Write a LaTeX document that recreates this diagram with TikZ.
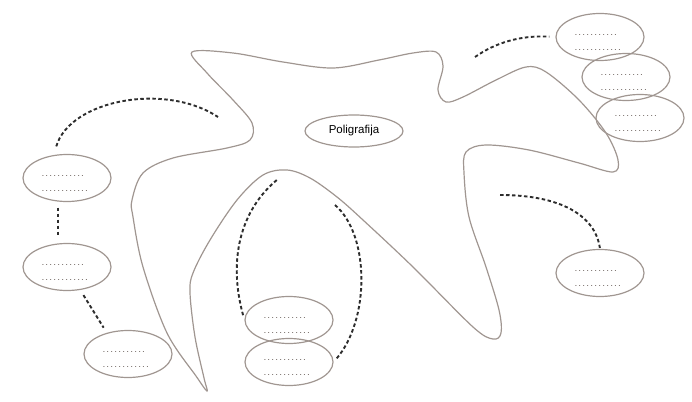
\documentclass[tikz,border=0pt]{standalone}
\usepackage{fontspec}
\setmainfont{Liberation Sans}
\usepackage{tikz}
\usetikzlibrary{positioning, shapes.geometric}

\definecolor{outline}{RGB}{160,150,145}
\definecolor{dotgray}{RGB}{105,95,90}
\definecolor{dashgray}{RGB}{45,45,45}

\begin{document}
\begin{tikzpicture}[
    x=1pt, y=-1pt,          % ピクセル座標でそのまま書く
    bubble/.style={ellipse, draw=outline, line width=1.2pt, inner sep=0pt,
        minimum width=88pt, minimum height=47pt, text=dotgray,
        text width=50pt, align=left,
        font=\fontsize{6.5}{15}\selectfont\bfseries\frenchspacing},
    link/.style={draw=dashgray, line width=1.9pt, dash pattern=on 3.5pt off 2.5pt}
]
    \useasboundingbox (0,0) rectangle (692,401);

    % --- 1. 中央の星形アウトライン ---
    \draw [outline, line width=1.2pt, smooth cycle, tension=0.55] plot coordinates {
        (192,52) (233,53) (283,62) (333,68) (379,60) (413,53) (436,52)
        (443,66) (438,90) (446,102) (463,97) (496,80) (526,67) (546,72)
        (579,100) (606,133) (618,160) (613,172) (579,163) (529,150)
        (486,145) (466,152) (464,173) (469,217) (486,267) (499,310)
        (501,333) (493,339) (473,327) (413,267) (363,220) (337,197)
        (310,178) (287,170) (263,175) (237,200) (210,240) (193,273)
        (190,293) (195,337) (204,378) (207,391) (196,376) (167,333)
        (143,267) (133,217) (132,200) (143,173) (173,158) (227,148)
        (250,140) (252,123) (233,100) (207,73)
    };

    % --- 2. 中心のラベル ---
    \node [ellipse, draw=outline, line width=1.2pt, minimum width=98pt,
        minimum height=32pt, inner sep=0pt, font=\fontsize{11.5}{13}\selectfont]
        (center) at (354,131) {Poligrafija};

    % --- 3. 周りの楕円（点線の空欄） ---
    \node [bubble] (left1) at (67,178) {\rule{0pt}{12pt}. . . . . . . . . . .\\. . . . . . . . . . . .};
    \node [bubble] (left2) at (67,267) {\rule{0pt}{12pt}. . . . . . . . . . .\\. . . . . . . . . . . .};
    \node [bubble] (left3) at (128,354) {\rule{0pt}{12pt}. . . . . . . . . . .\\. . . . . . . . . . . .};
    \node [bubble] (bottom1) at (289,320) {\rule{0pt}{12pt}. . . . . . . . . . .\\. . . . . . . . . . . .};
    \node [bubble] (bottom2) at (289,362) {\rule{0pt}{12pt}. . . . . . . . . . .\\. . . . . . . . . . . .};
    \node [bubble] (right1) at (600,273) {\rule{0pt}{12pt}. . . . . . . . . . .\\. . . . . . . . . . . .};
    \node [bubble] (top1) at (600,37) {\rule{0pt}{12pt}. . . . . . . . . . .\\. . . . . . . . . . . .};
    \node [bubble] (top2) at (626,77) {\rule{0pt}{12pt}. . . . . . . . . . .\\. . . . . . . . . . . .};
    \node [bubble] (top3) at (640,118) {\rule{0pt}{12pt}. . . . . . . . . . .\\. . . . . . . . . . . .};

    % --- 4. 破線のつながり ---
    \coordinate (armleft) at (218,117);
    \coordinate (archleft) at (278,179);
    \coordinate (archright) at (335,205);
    \coordinate (armtop) at (475,57);
    \coordinate (armright) at (500,195);

    \draw [link, shorten <=9pt] (left1.120) .. controls (70,100) and (165,82) .. (armleft);
    \draw [link, shorten <=6pt, shorten >=6pt] (left1.250) -- (left2.110);
    \draw [link, shorten <=6pt, shorten >=6pt] (left2.300) -- (left3.135);
    \draw [link, shorten <=5pt] (bottom1.west) .. controls (228,260) and (240,210) .. (archleft);
    \draw [link, shorten >=4pt] (archright) .. controls (370,235) and (370,320) .. (bottom2.east);
    \draw [link, shorten >=6pt] (armtop) .. controls (495,43) and (520,35) .. (top1.west);
    \draw [link, shorten >=1pt] (armright) .. controls (560,195) and (595,215) .. (right1.north);

\end{tikzpicture}
\end{document}
